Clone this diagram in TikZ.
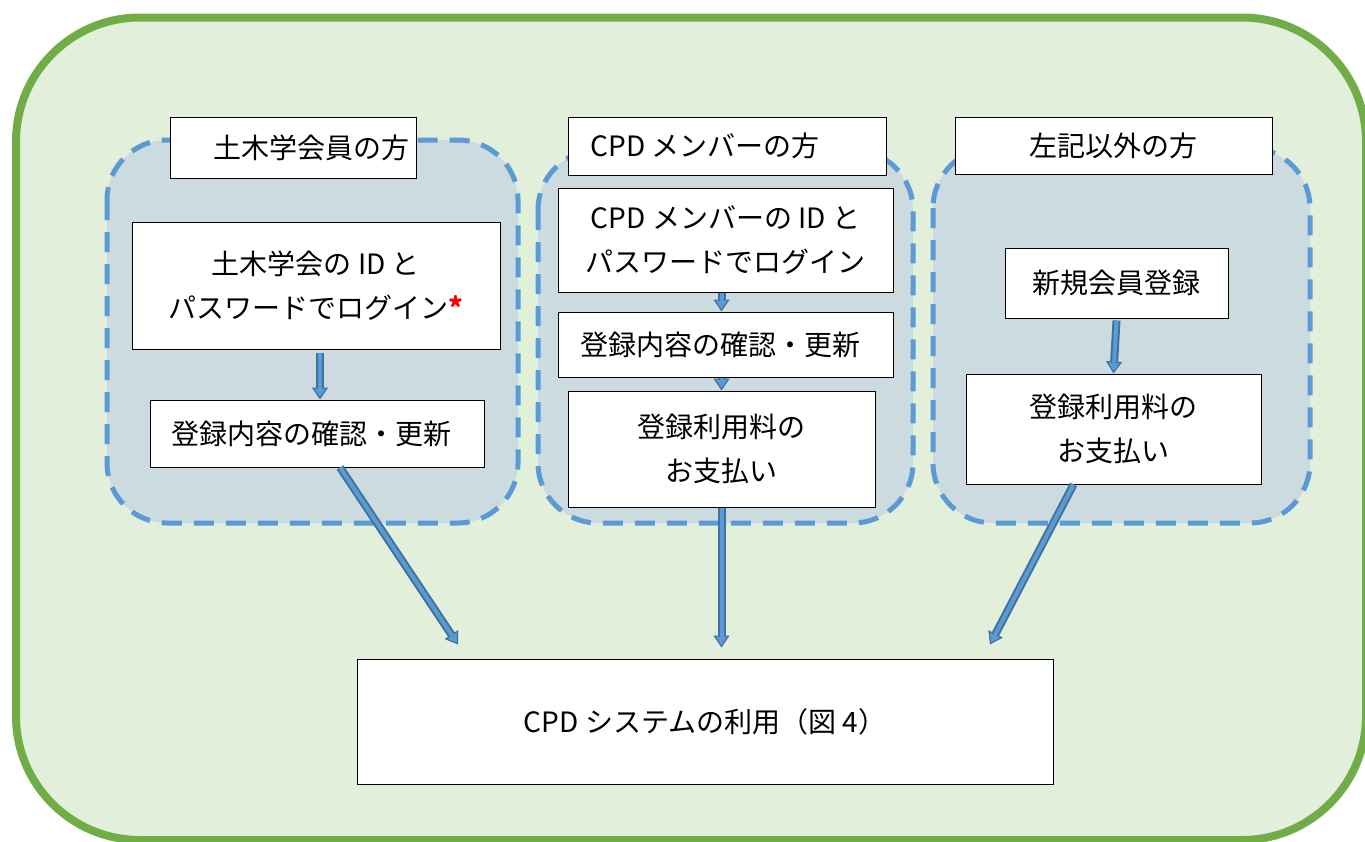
\documentclass[tikz,border=0pt]{standalone}
\usepackage{fontspec}
\setmainfont{Noto Sans CJK JP}
\usetikzlibrary{arrows.meta,calc}
\definecolor{outerfill}{HTML}{E2EFDA}
\definecolor{outerline}{HTML}{70AD47}
\definecolor{grpfill}{HTML}{CCDBE0}
\definecolor{grpline}{HTML}{5B9BD5}
\definecolor{adark}{HTML}{41719C}
\definecolor{alight}{HTML}{5B9BD5}
\tikzset{
 box/.style={draw=black, line width=1pt, fill=white, inner sep=0pt, align=center, font=\fontsize{28}{44}\selectfont},
 grp/.style={draw=grpline, fill=grpfill, line width=5pt, dash pattern=on 20pt off 12pt, rounded corners=60pt},
 barrow/.style={line width=8pt, draw=adark, -{Triangle[width=16pt,length=12pt,line width=1.2pt,fill=alight]}},
 barrowin/.style={line width=4pt, draw=alight, shorten >=11pt},
}
\newcommand{\blockarr}[2]{\draw[barrow] #1 -- #2; \draw[barrowin] #1 -- #2;}
\begin{document}
\begin{tikzpicture}[x=1pt,y=-1pt]
\useasboundingbox (0,0) rectangle (1365,841);
% outer frame
\draw[line width=8pt, draw=outerline, fill=outerfill, rounded corners=124pt] (16,17.5) rectangle (1366,840);
% groups
\draw[grp] (107,140) rectangle (518,523);
\draw[grp] (538,150) rectangle (913,523);
\draw[grp] (933,148) rectangle (1310,523);
% titles
\node[box, minimum width=246pt, minimum height=61pt] (title1) at (293,147.5) {\hspace*{36pt}土木学会員の方};
\node[box, minimum width=318pt, minimum height=58pt] (title2) at (727,146) {CPD メンバーの方\hspace*{44pt}};
\node[box, minimum width=317pt, minimum height=57pt] (title3) at (1113.5,145.5) {左記以外の方};
% group 1
\node[box, minimum width=368pt, minimum height=127pt] (login1) at (316,285.5) {土木学会の ID と\\パスワードでログイン{\color{red}\textbf{*}}};
\node[box, minimum width=334pt, minimum height=67pt] (upd1) at (317,433.5) {登録内容の確認・更新\hspace*{12pt}};
% group 2
\node[box, minimum width=335pt, minimum height=104pt] (login2) at (725.5,240) {CPD メンバーの ID と\\パスワードでログイン};
\node[box, minimum width=335pt, minimum height=65pt] (upd2) at (725.5,344.5) {登録内容の確認・更新\hspace*{10pt}};
\node[box, minimum width=307pt, minimum height=116pt] (pay2) at (721.5,449) {登録利用料の\\お支払い};
% group 3
\node[box, minimum width=223pt, minimum height=70pt] (reg3) at (1116.5,283) {新規会員登録};
\node[box, minimum width=295pt, minimum height=110pt] (pay3) at (1113.5,429) {登録利用料の\\お支払い};
% final
\node[box, minimum width=696pt, minimum height=125pt] (final) at (705,721.5) {CPD システムの利用（図 4）};
% arrows
\blockarr{($(login1.south)+(4,3)$)}{($(upd1.north)+(3,0)$)}
\blockarr{($(login2.south)+(-4,0)$)}{($(upd2.north)+(-4,0)$)}
\blockarr{($(upd2.south)+(-4,0)$)}{($(pay2.north)+(0,0)$)}
\blockarr{(pay2.south)}{($(pay2.south |- final.north)+(0,-11)$)}
\blockarr{($(reg3.south)+(0,2)$)}{(pay3.north)}
\blockarr{($(upd1.south)+(23,0)$)}{($(final.north)+(-247,-14)$)}
\blockarr{($(pay3.south)+(-40,0)$)}{($(final.north)+(285,-14)$)}
\end{tikzpicture}
\end{document}
